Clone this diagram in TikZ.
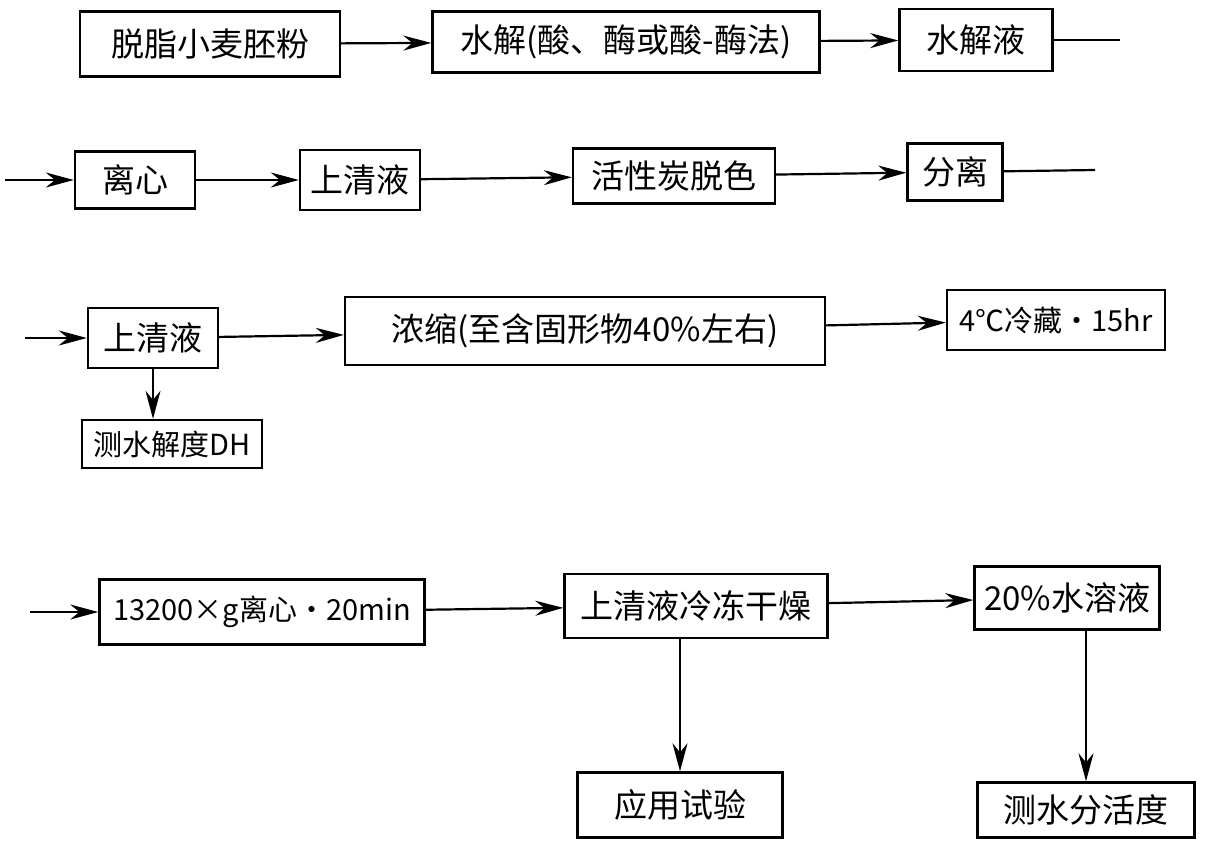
\documentclass[tikz,border=0pt]{standalone}
\usepackage{fontspec}
\setmainfont{Noto Sans CJK SC}
\usetikzlibrary{arrows.meta}
\tikzset{
  box/.style={draw=black,line width=2.4pt,inner sep=2pt,font=\fontsize{33}{36}\selectfont},
  small/.style={font=\fontsize{29}{32}\selectfont},
  ar/.style={-{Stealth[length=28pt,width=15pt]},line width=2.2pt},
  ln/.style={line width=2.2pt}
}
\begin{document}
\begin{tikzpicture}[x=1pt,y=-1pt]
\fill[white] (0,0) rectangle (1206,841);
\useasboundingbox (0,0) rectangle (1206,841);
% row 1
\node[box,minimum width=260pt,minimum height=65pt] (fen) at (210,44) {脱脂小麦胚粉};
\node[box,minimum width=387pt,minimum height=61pt] (shuijie) at (626,42) {水解(酸、酶或酸-酶法)};
\node[box,minimum width=153pt,minimum height=62pt] (jieye) at (976,40) {水解液};
\coordinate (end1) at (1120,40);
\draw[ar] (fen) -- (shuijie);
\draw[ar] (shuijie) -- (jieye);
\draw[ln] (jieye) -- (end1);
% row 2
\coordinate (start2) at (5,180);
\node[box,minimum width=120pt,minimum height=57pt] (lixin) at (135,180) {离心};
\node[box,minimum width=120pt,minimum height=60pt] (qing1) at (360,180) {上清液};
\node[box,minimum width=202pt,minimum height=55pt] (tuose) at (674,176) {活性炭脱色};
\node[box,minimum width=95pt,minimum height=57pt] (fenli) at (955,172) {分离};
\coordinate (end2) at (1095,170);
\draw[ar] (start2) -- (lixin);
\draw[ar] (lixin) -- (qing1);
\draw[ar] (qing1) -- (tuose);
\draw[ar] (tuose) -- (fenli);
\draw[ln] (fenli) -- (end2);
% row 3
\coordinate (start3) at (25,338);
\node[box,minimum width=130pt,minimum height=60pt] (qing2) at (153,338) {上清液};
\node[box,small,minimum width=180pt,minimum height=48pt] (dh) at (172,444) {测水解度DH};
\node[box,minimum width=480pt,minimum height=68pt] (nongsuo) at (585,331) {浓缩(至含固形物40\%左右)};
\node[box,small,minimum width=218pt,minimum height=60pt] (lengcang) at (1056,320) {4℃冷藏·15hr};
\draw[ar] (start3) -- (qing2);
\draw[ar] (qing2.south) -- (qing2.south |- dh.north);
\draw[ar] (qing2) -- (nongsuo);
\draw[ar] (nongsuo) -- (lengcang);
% row 4
\coordinate (start4) at (30,612);
\node[box,small,minimum width=325pt,minimum height=65pt] (lixin2) at (262,612) {13200×g离心·20min};
\node[box,minimum width=263pt,minimum height=64pt] (gan) at (696,606) {上清液冷冻干燥};
\node[box,minimum width=185pt,minimum height=63pt] (rongye) at (1067,598) {20\%水溶液};
\node[box,minimum width=205pt,minimum height=65pt] (shiyan) at (680,805) {应用试验};
\node[box,minimum width=217pt,minimum height=55pt] (huodu) at (1086,810) {测水分活度};
\draw[ar] (start4) -- (lixin2);
\draw[ar] (lixin2) -- (gan);
\draw[ar] (gan) -- (rongye);
\draw[ar] (gan.south -| shiyan.north) -- (shiyan.north);
\draw[ar] (rongye.south -| huodu.north) -- (huodu.north);
\end{tikzpicture}
\end{document}
